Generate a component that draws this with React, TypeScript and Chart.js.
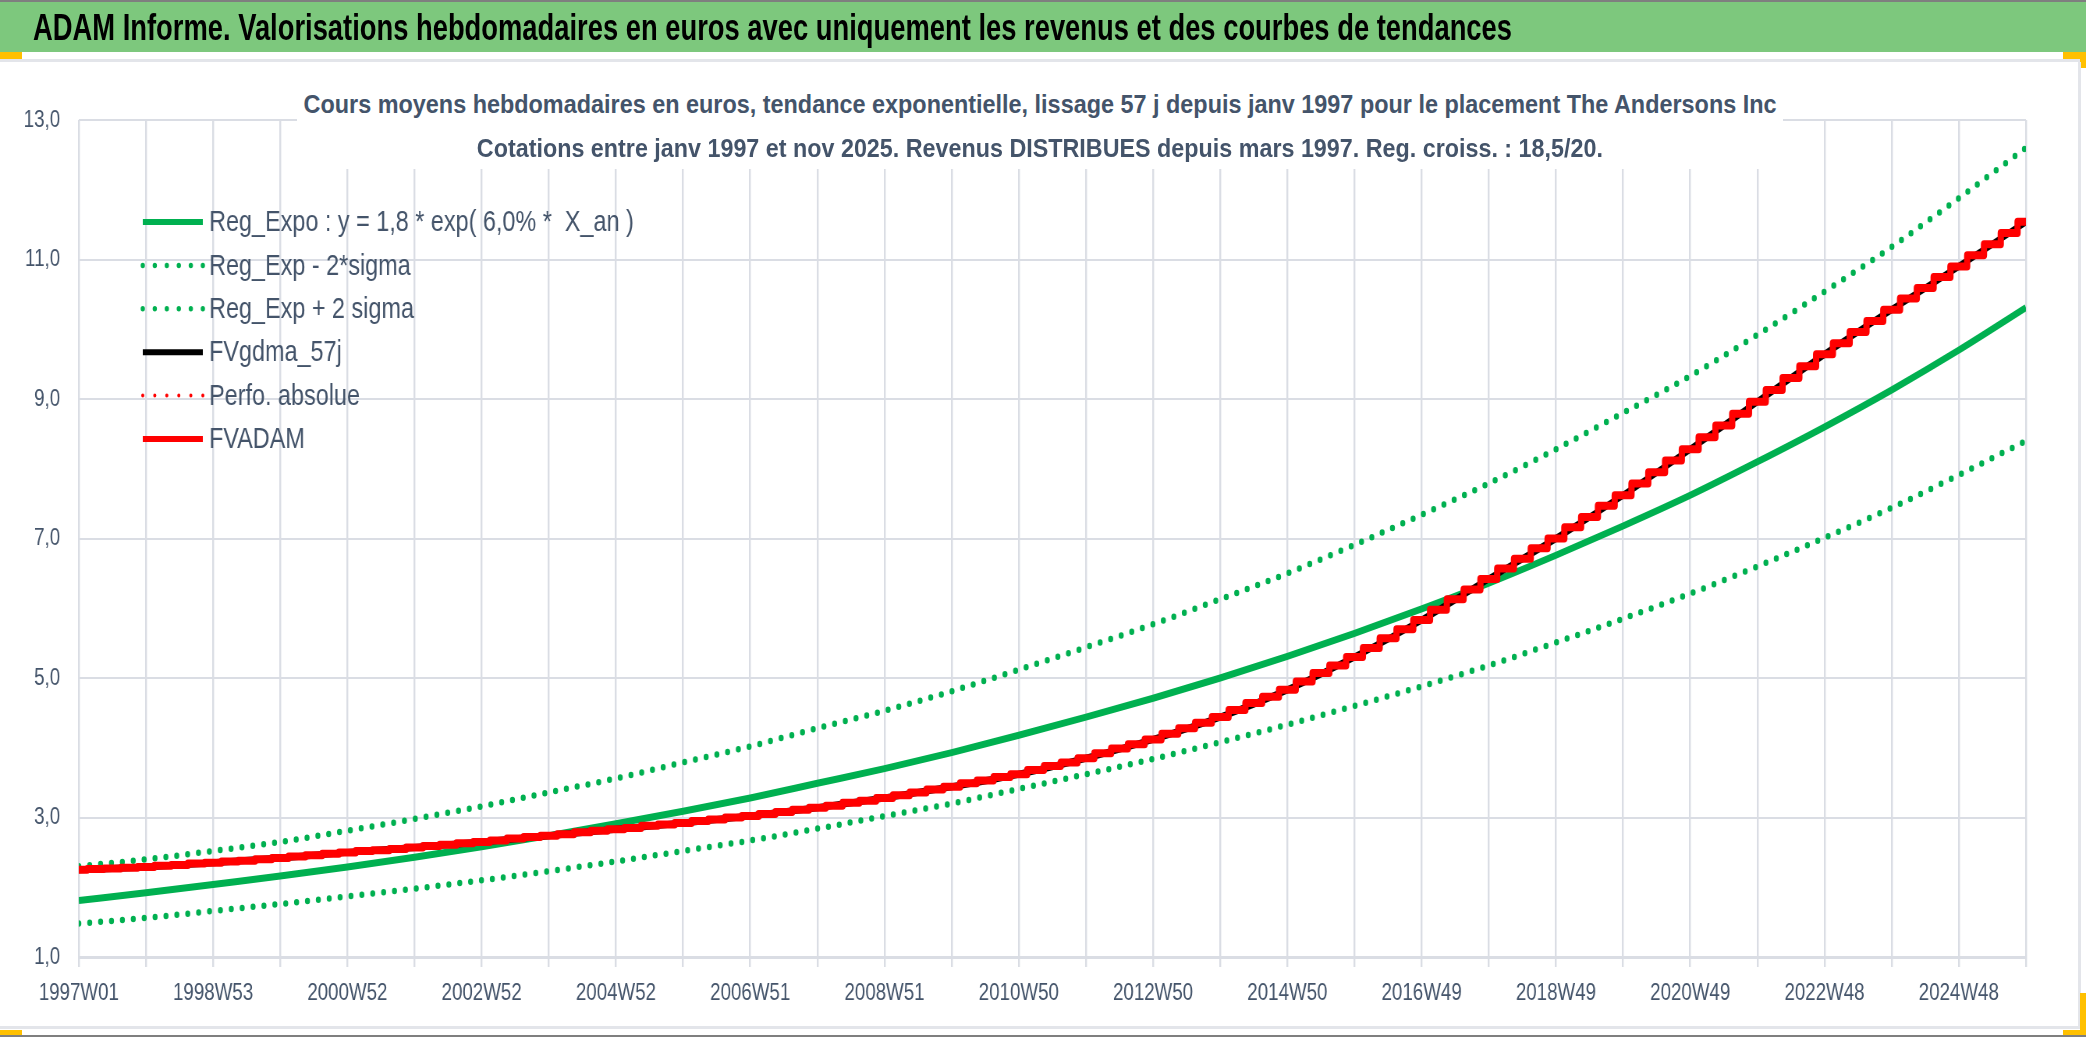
import { useEffect, useLayoutEffect, useRef } from 'react'
import Chart from 'chart.js/auto'

// x axis: week index counted from 1997W01, one grid line every 52 weeks
const tickLabels = [
  '1997W01', '1998W53', '2000W52', '2002W52', '2004W52', '2006W51', '2008W51', '2010W50',
  '2012W50', '2014W50', '2016W49', '2018W49', '2020W49', '2022W48', '2024W48',
]
const yTicks = [1, 3, 5, 7, 9, 11, 13]

// yearly readings (one value per grid line)
const regExpo = [
  1.81, 1.92, 2.04, 2.16, 2.29, 2.43, 2.58, 2.74, 2.91, 3.09, 3.28, 3.49, 3.70, 3.93, 4.18,
  4.44, 4.71, 5.00, 5.31, 5.64, 5.99, 6.36, 6.76, 7.18, 7.62, 8.10, 8.60, 9.13, 9.70, 10.31,
]
const regLow = [
  1.48, 1.56, 1.66, 1.76, 1.87, 1.98, 2.10, 2.23, 2.37, 2.52, 2.67, 2.84, 3.02, 3.20, 3.41,
  3.62, 3.84, 4.08, 4.33, 4.60, 4.88, 5.18, 5.51, 5.85, 6.21, 6.60, 7.01, 7.44, 7.91, 8.40,
]
const regHigh = [
  2.30, 2.40, 2.52, 2.65, 2.81, 2.98, 3.16, 3.36, 3.56, 3.79, 4.02, 4.28, 4.53, 4.81, 5.12,
  5.44, 5.77, 6.13, 6.50, 6.91, 7.34, 7.79, 8.28, 8.80, 9.33, 9.92, 10.54, 11.18, 11.88, 12.60,
]
const fvGdma = [
  2.25, 2.29, 2.35, 2.42, 2.50, 2.57, 2.65, 2.74, 2.83, 2.92, 3.02, 3.14, 3.28, 3.44, 3.62,
  3.85, 4.12, 4.44, 4.83, 5.30, 5.83, 6.42, 7.00, 7.62, 8.28, 8.96, 9.64, 10.28, 10.90, 11.54,
]
// quarterly readings (the dividend steps)
const fvAdam = [
  2.25, 2.26, 2.27, 2.28, 2.29, 2.31, 2.32, 2.34, 2.35, 2.37, 2.38, 2.40, 2.42, 2.44, 2.46, 2.48,
  2.50, 2.52, 2.53, 2.55, 2.57, 2.59, 2.61, 2.63, 2.65, 2.67, 2.70, 2.72, 2.74, 2.76, 2.79, 2.81,
  2.83, 2.85, 2.88, 2.90, 2.92, 2.95, 2.97, 3.00, 3.02, 3.05, 3.08, 3.11, 3.14, 3.17, 3.21, 3.24,
  3.28, 3.32, 3.36, 3.40, 3.44, 3.49, 3.53, 3.58, 3.62, 3.68, 3.74, 3.79, 3.85, 3.92, 3.99, 4.05,
  4.12, 4.20, 4.28, 4.36, 4.44, 4.54, 4.64, 4.73, 4.83, 4.95, 5.07, 5.18, 5.30, 5.43, 5.57, 5.70,
  5.83, 5.98, 6.13, 6.27, 6.42, 6.57, 6.71, 6.86, 7.00, 7.16, 7.31, 7.47, 7.62, 7.79, 7.95, 8.12,
  8.28, 8.45, 8.62, 8.79, 8.96, 9.13, 9.30, 9.47, 9.64, 9.80, 9.96, 10.12, 10.28, 10.44, 10.59, 10.75,
  10.90, 11.06, 11.22, 11.38, 11.54,
]

const FONT = "'Liberation Sans', Arial, sans-serif"
const TEXT = '#44546A'
const GRID = '#DADDE4'
const GREEN = '#00B050'

// the reference text is horizontally squeezed: the canvas is drawn wider and shrunk in css
const F = 0.78
const W = Math.round(2086 / F)
const H = 1037

const yearly = (arr: number[]) => arr.map((y, i) => ({ x: i * 52, y }))
const quarterly = (arr: number[]) => arr.map((y, i) => ({ x: i * 13, y }))

const legendWidths = [6, 5.5, 5.5, 6, 4, 6]

// legend drawn inside the plot area, over the grid
const insideLegend = {
  id: 'insideLegend',
  afterDraw(chart: any) {
    const { ctx, chartArea } = chart
    ctx.save()
    ctx.font = `30px ${FONT}`
    ctx.textBaseline = 'middle'
    chart.data.datasets.forEach((ds: any, i: number) => {
      const y = chartArea.top + 102 + i * 43.4
      const x = chartArea.left + 82
      ctx.beginPath()
      ctx.strokeStyle = ds.borderColor
      ctx.lineWidth = legendWidths[i]
      ctx.setLineDash(ds.borderDash ? [0, 15.4] : [])
      ctx.lineCap = ds.borderDash ? 'round' : 'butt'
      ctx.moveTo(x, y)
      ctx.lineTo(x + 77, y)
      ctx.stroke()
      ctx.setLineDash([])
      ctx.fillStyle = TEXT
      ctx.fillText(ds.label, x + 85, y + 1)
    })
    ctx.restore()
  },
}

const AdamChart = () => {
  const chartRef = useRef<HTMLCanvasElement>(null)

  useEffect(() => {
    if (!chartRef.current) return
    const myChart = new Chart(chartRef.current, {
      type: 'line',
      data: {
        datasets: [
          {
            label: 'Reg_Expo : y = 1,8 * exp( 6,0% *  X_an )',
            data: yearly(regExpo),
            borderColor: GREEN,
            borderWidth: 7,
            order: 3,
          },
          {
            label: 'Reg_Exp - 2*sigma',
            data: yearly(regLow),
            borderColor: GREEN,
            borderWidth: 6.5,
            borderDash: [0, 14],
            borderCapStyle: 'round',
            order: 4,
          },
          {
            label: 'Reg_Exp + 2 sigma',
            data: yearly(regHigh),
            borderColor: GREEN,
            borderWidth: 6.5,
            borderDash: [0, 14],
            borderCapStyle: 'round',
            order: 5,
          },
          {
            label: 'FVgdma_57j',
            data: yearly(fvGdma),
            borderColor: '#000000',
            borderWidth: 7,
            order: 1,
          },
          {
            label: 'Perfo. absolue',
            data: yearly(fvGdma),
            borderColor: '#FF0000',
            borderWidth: 3,
            borderDash: [0, 10],
            borderCapStyle: 'round',
            order: 2,
          },
          {
            label: 'FVADAM',
            data: quarterly(fvAdam),
            borderColor: '#FF0000',
            borderWidth: 8,
            stepped: 'middle',
            order: 0,
          },
        ] as any,
      },
      options: {
        animation: false,
        responsive: false,
        maintainAspectRatio: false,
        layout: { padding: { top: 120, right: W - Math.round(2026 / F), left: 0, bottom: 0 } },
        elements: {
          point: { radius: 0, hoverRadius: 0 },
          line: { cubicInterpolationMode: 'monotone', borderJoinStyle: 'round' },
        },
        plugins: {
          legend: { display: false },
          title: { display: false },
          tooltip: { enabled: false },
        },
        scales: {
          x: {
            type: 'linear',
            min: 0,
            max: 1508,
            afterFit: (s: any) => { s.height = 80 },
            grid: { color: GRID, lineWidth: 2.4, tickLength: 10 },
            border: { color: GRID, width: 3 },
            ticks: {
              stepSize: 52,
              autoSkip: false,
              maxRotation: 0,
              padding: 12,
              color: TEXT,
              font: { family: FONT, size: 24 },
              callback: (v: any) => {
                const k = Math.round(Number(v) / 52)
                return k % 2 === 0 ? (tickLabels[k / 2] ?? '') : ''
              },
            },
          },
          y: {
            min: yTicks[0],
            max: yTicks[yTicks.length - 1],
            afterFit: (s: any) => { s.width = Math.round(79 / F) },
            grid: { color: GRID, lineWidth: 2, drawTicks: false },
            border: { display: false },
            ticks: {
              stepSize: 2,
              padding: 24,
              color: TEXT,
              font: { family: FONT, size: 24 },
              callback: (v: any) => Number(v).toFixed(1).replace('.', ','),
            },
          },
        },
      },
      plugins: [insideLegend],
    })
    return () => myChart.destroy()
  }, [])

  return (
    <canvas
      ref={chartRef}
      width={W}
      height={H}
      style={{ position: 'absolute', left: 0, top: 0, width: 2086, height: H }}
    />
  )
}

// one line of text squeezed horizontally to the width it has in the reference
const FitLine = ({ text, width, origin, style }: { text: string; width: number; origin: string; style: any }) => {
  const ref = useRef<HTMLSpanElement>(null)
  useLayoutEffect(() => {
    const el = ref.current
    if (!el) return
    el.style.transform = 'none'
    const w = el.getBoundingClientRect().width
    if (w > 0) el.style.transform = `scaleX(${width / w})`
  }, [text, width])
  return (
    <span ref={ref} style={{ display: 'inline-block', flex: 'none', whiteSpace: 'nowrap', transformOrigin: origin, ...style }}>
      {text}
    </span>
  )
}

const subLine = { height: 44, lineHeight: '44px', display: 'flex', justifyContent: 'center' }

export default function App() {
  useEffect(() => {
    document.body.style.margin = '0'
  }, [])
  const bar = (left: number, top: number, width: number, height: number, background: string) => (
    <div style={{ position: 'absolute', left, top, width, height, background }} />
  )
  return (
    <div style={{ position: 'relative', width: 2086, height: H, background: '#fff', overflow: 'hidden', fontFamily: FONT }}>
      <AdamChart />
      <div style={{ position: 'absolute', left: 0, top: 0, width: 2086, height: 50, background: '#7DC87D', borderTop: '2px solid #7F7F7F' }} />
      <div style={{ position: 'absolute', left: 33, top: 2, height: 52, lineHeight: '52px' }}>
        <FitLine
          text="ADAM Informe. Valorisations hebdomadaires en euros avec uniquement les revenus et des courbes de tendances"
          width={1479}
          origin="left center"
          style={{ fontSize: 36, fontWeight: 'bold', color: '#000' }}
        />
      </div>
      {bar(0, 52, 22, 7, '#FFC000')}
      {bar(0, 59, 2086, 3, '#E3E5EA')}
      {bar(2063, 52, 20, 7, '#FFC000')}
      {bar(2080, 52, 6, 16, '#FFC000')}
      {bar(2078, 62, 3, 965, '#E3E5EA')}
      {bar(0, 1026, 2080, 3, '#E3E5EA')}
      {bar(0, 1035, 2086, 2, '#7F7F7F')}
      {bar(0, 1030, 22, 5, '#FFC000')}
      {bar(2080, 993, 6, 42, '#FFC000')}
      {bar(2063, 1030, 20, 5, '#FFC000')}
      <div
        style={{
          position: 'absolute', left: 297, top: 80, width: 1486, height: 89, background: '#fff',
          fontSize: 26, fontWeight: 'bold', color: TEXT,
        }}
      >
        <div style={{ ...subLine, marginTop: 2 }}>
          <FitLine
            text="Cours moyens hebdomadaires en euros, tendance exponentielle, lissage 57 j depuis janv 1997 pour le placement The Andersons Inc"
            width={1473}
            origin="center center"
            style={{}}
          />
        </div>
        <div style={subLine}>
          <FitLine
            text="Cotations entre janv 1997 et nov 2025. Revenus DISTRIBUES depuis mars 1997. Reg. croiss. : 18,5/20."
            width={1126}
            origin="center center"
            style={{}}
          />
        </div>
      </div>
    </div>
  )
}
